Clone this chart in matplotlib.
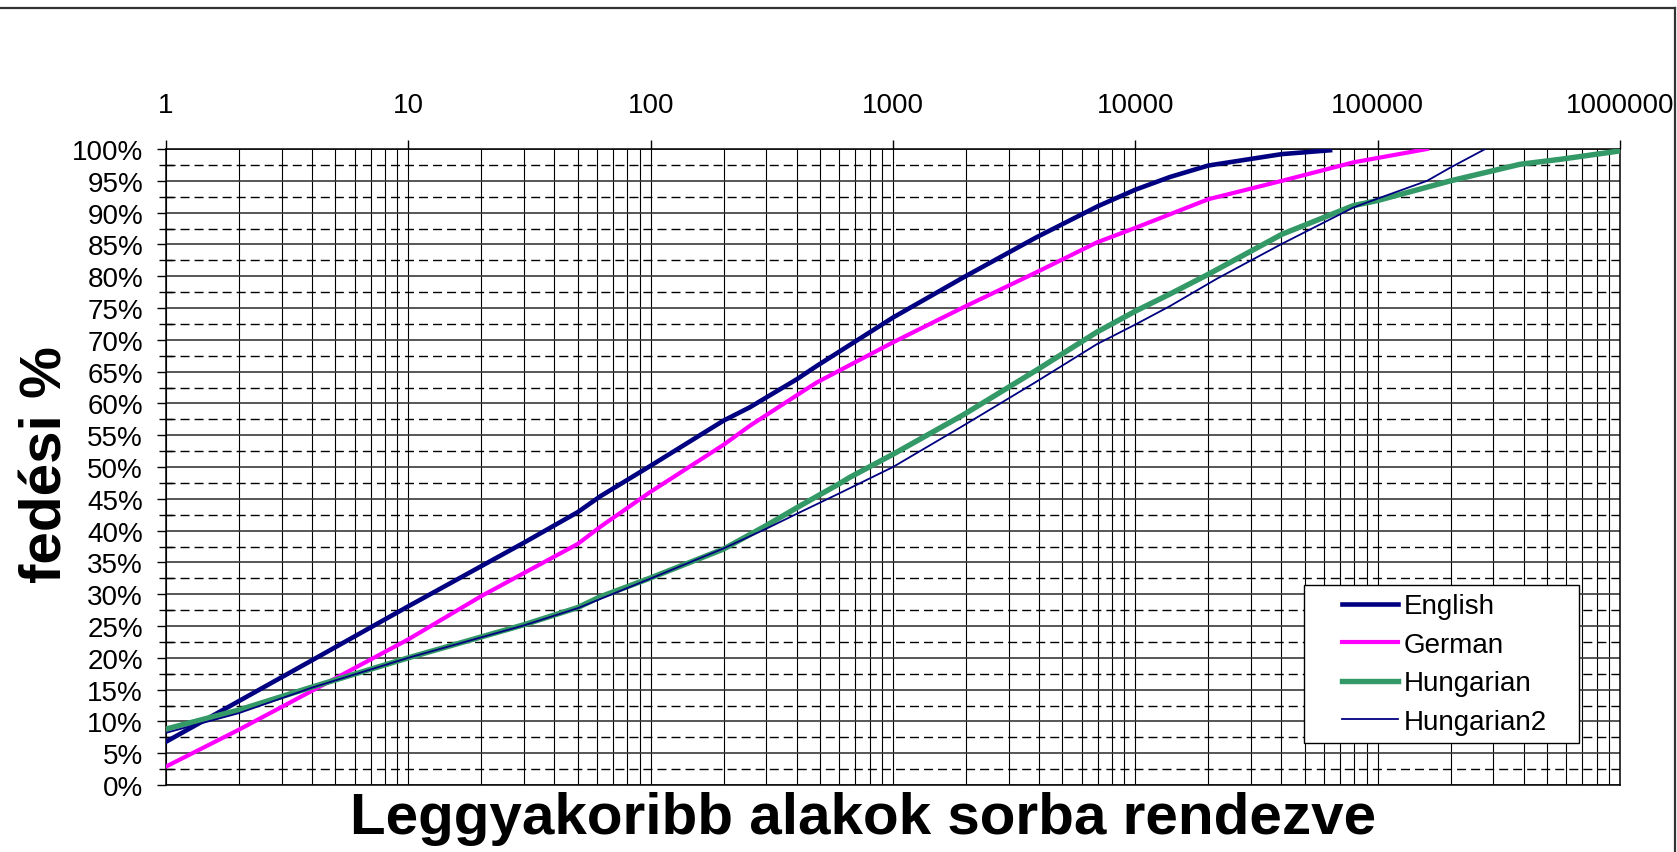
import numpy as np
import matplotlib
matplotlib.use("Agg")
import matplotlib.pyplot as plt
from matplotlib.lines import Line2D
from matplotlib.path import Path
from matplotlib.legend_handler import HandlerLine2D
from matplotlib.ticker import FixedLocator, FuncFormatter, NullFormatter

plt.rcParams['font.family'] = ['Liberation Sans', 'DejaVu Sans']

# rank of word forms vs. coverage percent
en_rank = [1, 2, 4, 10, 30, 50, 62, 99, 200, 257, 401, 485, 1000, 1950,
           3900, 7000, 10000, 13900, 20000, 40300, 63600]
en_cov = [6.8, 13.2, 19.6, 28.1, 38.1, 42.9, 45.4, 50.1, 57.3, 59.4, 63.8,
          65.9, 73.5, 79.8, 86.1, 91.0, 93.6, 95.6, 97.4, 99.2, 99.8]

de_rank = [1, 2, 4, 10, 20, 50, 62, 99, 200, 257, 441, 485, 1000, 1950,
           3900, 6930, 10000, 20000, 40300, 79400, 160000]
de_cov = [2.9, 8.7, 14.8, 22.9, 29.7, 37.9, 40.6, 46.0, 53.5, 56.5, 62.3,
          63.3, 69.6, 75.1, 80.6, 85.3, 87.6, 92.1, 95.0, 97.9, 100.0]

hu_rank = [1, 2, 4, 10, 30, 50, 62, 99, 200, 300, 414, 596, 665, 1000,
           1950, 3900, 6930, 10000, 13900, 20000, 40300, 79400,
           100000, 200000, 387000, 572000, 1000000]
hu_cov = [8.8, 11.8, 15.4, 20.0, 25.2, 27.9, 29.6, 32.5, 37.1, 40.8, 43.9,
          47.3, 48.4, 52.0, 58.2, 65.2, 71.2, 74.5, 77.2, 80.3, 86.6,
          91.1, 91.9, 95.0, 97.6, 98.4, 99.7]

hu2_rank = [1, 2, 4, 10, 30, 50, 99, 200, 300, 414, 596, 1000, 1950,
            3900, 6930, 10000, 13900, 21700, 40300, 79400, 100000, 160000,
            200000, 278000]
hu2_cov = [8.2, 11.3, 15.3, 20.0, 25.1, 27.8, 32.4, 37.2, 40.3, 42.9, 45.8,
           50.0, 56.5, 63.4, 69.3, 72.4, 75.3, 79.6, 85.1, 90.8, 92.2,
           95.0, 97.1, 100.0]

x_ticks = [1, 10, 100, 1000, 10000, 100000, 1000000]
y_ticks = list(range(0, 101, 5))

W, H = 1677, 853
fig = plt.figure(figsize=(W / 100, H / 100), dpi=100)
ax = fig.add_axes([166 / W, 1 - 786 / H, (1620 - 166) / W, (786 - 150) / H])

ax.plot(en_rank, en_cov, color='#000080', lw=3.3, label='English', zorder=3)
ax.plot(de_rank, de_cov, color='#FF00FF', lw=3.0, label='German', zorder=3)
ax.plot(hu_rank, hu_cov, color='#339966', lw=3.9, label='Hungarian', zorder=3)
ax.plot(hu2_rank, hu2_cov, color='#000080', lw=1.3, label='Hungarian2', zorder=4)

ax.set_xscale('log')
ax.set_xlim(1, 1e6)
ax.set_ylim(0, 100)

# x axis: labels on top, plain integers
ax.xaxis.tick_top()
ax.xaxis.set_major_locator(FixedLocator(x_ticks))
ax.xaxis.set_major_formatter(FuncFormatter(lambda v, p: f"{int(round(v))}"))
minor_x = [m * 10 ** e for e in range(6) for m in range(2, 10)]
ax.xaxis.set_minor_locator(FixedLocator(minor_x))
ax.xaxis.set_minor_formatter(NullFormatter())
ax.tick_params(axis='x', which='major', direction='out', length=6.5,
               width=1, labelsize=20, pad=16, top=True, bottom=False)
ax.tick_params(axis='x', which='minor', length=0, top=False, bottom=False)

# y axis: percent labels, dashed half-step lines
ax.yaxis.set_major_locator(FixedLocator(y_ticks))
ax.yaxis.set_major_formatter(FuncFormatter(lambda v, p: f"{int(v)}%"))
ax.yaxis.set_minor_locator(FixedLocator([v + 2.5 for v in y_ticks[:-1]]))
ax.tick_params(axis='y', which='major', direction='out', length=6.5,
               width=1, labelsize=20, pad=10)
ax.tick_params(axis='y', which='minor', direction='inout', length=10, width=1)

ax.grid(True, axis='y', which='major', color='#3a3a3a', lw=1.2)
ax.grid(True, axis='y', which='minor', color='black', lw=1,
        linestyle=(0, (6.5, 3.6)))
ax.grid(True, axis='x', which='both', color='black', lw=0.8)
ax.set_axisbelow(True)
for s in ax.spines.values():
    s.set_color('black')
    s.set_linewidth(1.1)

fig.text(62 / W, 1 - 465 / H, 'fedési %', rotation=90, rotation_mode='anchor',
         ha='center', va='baseline', fontsize=42, fontweight='bold')
fig.text(863 / W, 1 - 834 / H, 'Leggyakoribb alakok sorba rendezve',
         ha='center', va='baseline', fontsize=42, fontweight='bold')

fs = 20
leg = ax.legend(loc='upper left', bbox_to_anchor=(1304 / W, 1 - 586 / H),
                bbox_transform=fig.transFigure, fontsize=fs, frameon=True,
                fancybox=False, shadow=False, borderpad=0.3,
                borderaxespad=0, labelspacing=0.45, handletextpad=0.2,
                handlelength=3.1,
                handler_map={Line2D: HandlerLine2D(xpad=1.05)})


# legend box has more room on the right than on top/bottom
def wide_box(x0, y0, width, height, mutation_size):
    x1 = x0 + width + 0.85 * mutation_size
    y1 = y0 + height
    return Path([(x0, y0), (x1, y0), (x1, y1), (x0, y1), (x0, y0)],
                closed=True)


frame = leg.get_frame()
frame.set_boxstyle(wide_box)
frame.set_edgecolor('black')
frame.set_linewidth(1.0)
frame.set_alpha(1)

# outer chart-area frame (top and right edges visible)
fig.add_artist(Line2D([0, 1675 / W], [1 - 9 / H, 1 - 9 / H],
                      transform=fig.transFigure, color='#333333', lw=1.6))
fig.add_artist(Line2D([1675 / W, 1675 / W], [1 - 9 / H, 0],
                      transform=fig.transFigure, color='#333333', lw=1.6))

fig.savefig('out.png', dpi=100)
